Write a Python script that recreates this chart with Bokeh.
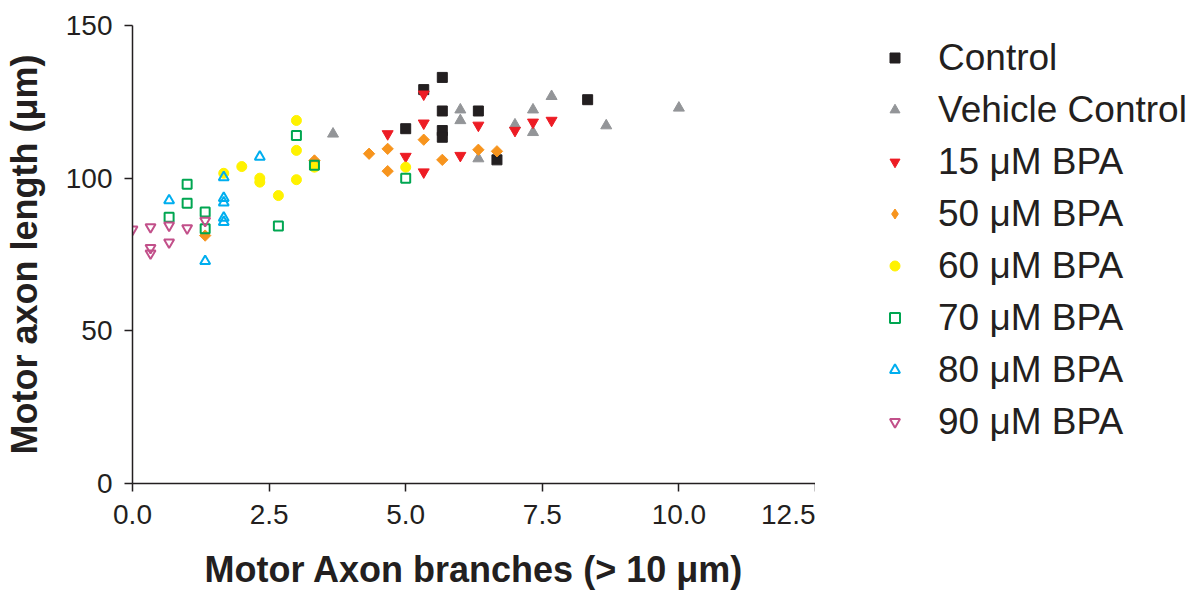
from bokeh.plotting import figure
from bokeh.layouts import row
from bokeh.models import Range1d, Legend, LegendItem, FixedTicker, NumeralTickFormatter
from bokeh.embed import file_html
from bokeh.resources import INLINE

# ---- data ----
series_names = ["Control", "Vehicle Control", "15 μM BPA", "50 μM BPA",
                "60 μM BPA", "70 μM BPA", "80 μM BPA", "90 μM BPA"]

control_x = [5.0, 5.33, 5.67, 5.67, 5.67, 5.67, 6.33, 6.67, 8.33]
control_y = [116.2, 129.0, 133.0, 122.0, 115.6, 113.4, 122.0, 106.0, 125.7]

vehicle_x = [3.67, 6.0, 6.0, 6.33, 7.0, 7.33, 7.33, 7.67, 8.67, 10.0]
vehicle_y = [114.5, 122.4, 118.9, 106.4, 117.5, 122.4, 115.0, 126.8, 117.2, 123.0]

bpa15_x = [4.67, 5.0, 5.33, 5.33, 5.33, 6.0, 6.33, 7.0, 7.33, 7.67]
bpa15_y = [114.5, 107.1, 127.5, 118.0, 102.0, 107.4, 117.3, 115.6, 118.3, 118.9]

bpa50_x = [1.33, 3.33, 4.33, 4.67, 4.67, 5.33, 5.67, 6.33, 6.67]
bpa50_y = [81.2, 105.8, 108.0, 109.6, 102.3, 112.6, 106.0, 109.3, 108.8]

bpa60_x = [1.67, 2.0, 2.33, 2.33, 2.67, 3.0, 3.0, 3.0, 3.33, 5.0]
bpa60_y = [101.6, 103.8, 100.0, 98.7, 94.3, 118.9, 109.1, 99.5, 103.6, 103.6]

bpa70_x = [0.67, 1.0, 1.0, 1.33, 1.33, 2.67, 3.0, 3.33, 5.0]
bpa70_y = [87.2, 98.0, 91.8, 88.9, 83.4, 84.3, 114.0, 104.2, 100.0]

bpa80_x = [0.67, 1.33, 1.67, 1.67, 1.67, 1.67, 1.67, 2.33]
bpa80_y = [92.7, 72.8, 100.3, 93.5, 92.0, 87.0, 85.6, 107.0]

bpa90_x = [0.0, 0.33, 0.33, 0.33, 0.67, 0.67, 1.0, 1.33]
bpa90_y = [83.2, 84.0, 77.2, 75.4, 84.5, 79.0, 83.6, 86.1]

x_ticks = [0, 2.5, 5, 7.5, 10, 12.5]
y_ticks = [0, 50, 100, 150]

# ---- styles: marker, legend marker, colour, filled, size, angle ----
TEXT = "#231f20"
FONT = "Liberation Sans"
styles = [
    ("square", "square", "#231f20", True, 10, 0.0),
    ("triangle", "triangle", "#939598", True, 11, 0.0),
    ("inverted_triangle", "inverted_triangle", "#ed1c24", True, 11, 0.0),
    ("square", "diamond", "#f7941d", True, 8, 0.7854),
    ("circle", "circle", "#fff200", True, 10, 0.0),
    ("square", "square", "#00a651", False, 10, 0.0),
    ("triangle", "triangle", "#00aeef", False, 11, 0.0),
    ("inverted_triangle", "inverted_triangle", "#c2508a", False, 11, 0.0),
]
data = [(control_x, control_y), (vehicle_x, vehicle_y), (bpa15_x, bpa15_y),
        (bpa50_x, bpa50_y), (bpa60_x, bpa60_y), (bpa70_x, bpa70_y),
        (bpa80_x, bpa80_y), (bpa90_x, bpa90_y)]

p = figure(frame_width=683, frame_height=458, output_backend="svg",
           toolbar_location=None, x_range=Range1d(0, 12.5), y_range=Range1d(0, 150),
           min_border_left=122, min_border_top=25, min_border_bottom=0,
           min_border_right=0)
p.outline_line_color = None
p.xgrid.visible = False
p.ygrid.visible = False

# legend-only panel to the right of the chart (its renderers are hidden)
lg = figure(width=374, height=592, output_backend="svg", toolbar_location=None,
            x_range=Range1d(0, 12.5), y_range=Range1d(0, 150),
            x_axis_type=None, y_axis_type=None,
            min_border_left=56, min_border_right=0, min_border_top=0, min_border_bottom=0)
lg.outline_line_color = None
lg.xgrid.visible = False
lg.ygrid.visible = False

items = []
for name, (xs, ys), (marker, lmarker, color, filled, size, ang) in zip(series_names, data, styles):
    if filled:
        kw = dict(fill_color=color, line_color=color, line_width=1)
    else:
        kw = dict(fill_color=None, line_color=color, line_width=2)
        size = size - 1
    p.scatter(xs, ys, marker=marker, size=size, angle=ang, **kw)
    lr = lg.scatter(xs, ys, marker=lmarker, size=size, visible=False, **kw)
    items.append(LegendItem(label=name, renderers=[lr]))

for ax in (p.xaxis[0], p.yaxis[0]):
    ax.axis_line_color = TEXT
    ax.axis_line_width = 1.5
    ax.major_tick_line_color = TEXT
    ax.major_tick_line_width = 1.5
    ax.major_tick_in = 0
    ax.major_tick_out = 8
    ax.minor_tick_line_color = None
    ax.major_label_text_font = FONT
    ax.major_label_text_font_size = "28px"
    ax.major_label_text_color = TEXT
    ax.axis_label_text_font = FONT
    ax.axis_label_text_font_size = "36px"
    ax.axis_label_text_font_style = "bold"
    ax.axis_label_text_color = TEXT

p.xaxis.ticker = FixedTicker(ticks=x_ticks)
p.yaxis.ticker = FixedTicker(ticks=y_ticks)
p.xaxis.formatter = NumeralTickFormatter(format="0.0")
p.xaxis.axis_label = "Motor Axon branches (> 10 μm)"
p.yaxis.axis_label = "Motor axon length (μm)"
p.xaxis.major_label_standoff = 13
p.yaxis.major_label_standoff = 12
p.xaxis.axis_label_standoff = 22
p.yaxis.axis_label_standoff = 18

legend = Legend(items=items, location="top_left", margin=11, padding=0,
                glyph_width=25, glyph_height=25, label_standoff=31,
                label_height=43, spacing=9,
                label_text_font=FONT, label_text_font_size="37px",
                label_text_color=TEXT, border_line_color=None,
                background_fill_alpha=0, inactive_fill_alpha=0)
lg.add_layout(legend)

layout = row(p, lg)
open("out.html", "w").write(file_html(layout, INLINE))
